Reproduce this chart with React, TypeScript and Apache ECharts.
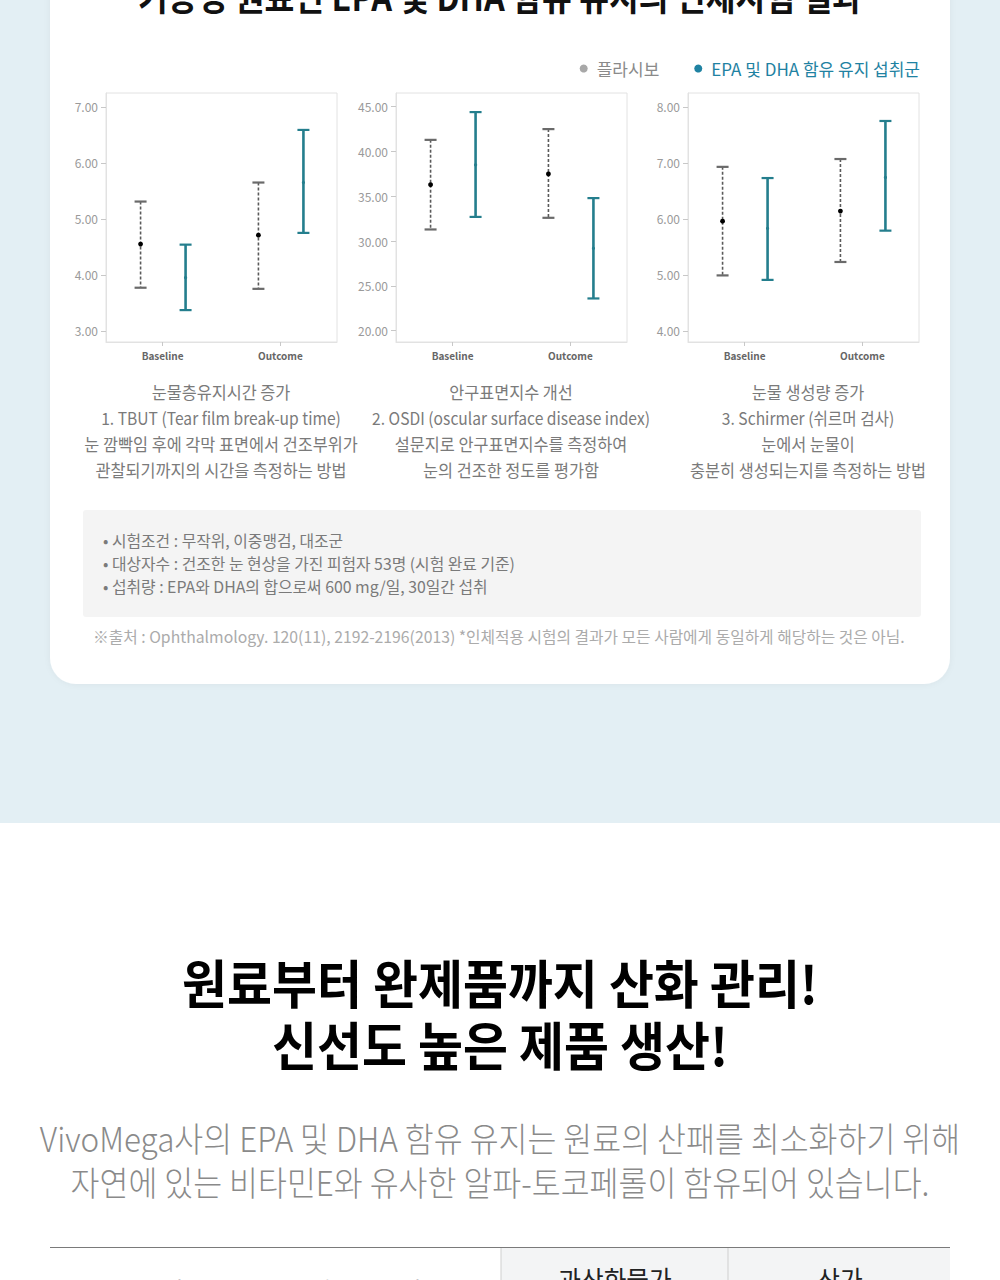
import React, { useEffect, useRef } from "react";
import * as echarts from "echarts";

// ---------- data ----------
const categories = ["Baseline", "Outcome"];
const groupNames = ["플라시보", "EPA 및 DHA 함유 유지 섭취군"];

// TBUT (seconds)
const tbutPlaceboMean = [4.55, 4.71];
const tbutPlaceboLow = [3.77, 3.75];
const tbutPlaceboHigh = [5.31, 5.65];
const tbutEpaMean = [3.95, 5.65];
const tbutEpaLow = [3.37, 4.75];
const tbutEpaHigh = [4.54, 6.59];
const tbutTicks = [3, 4, 5, 6, 7];

// OSDI
const osdiPlaceboMean = [36.3, 37.5];
const osdiPlaceboLow = [31.3, 32.6];
const osdiPlaceboHigh = [41.3, 42.5];
const osdiEpaMean = [38.5, 29.2];
const osdiEpaLow = [32.7, 23.6];
const osdiEpaHigh = [44.4, 34.8];
const osdiTicks = [20, 25, 30, 35, 40, 45];

// Schirmer
const schPlaceboMean = [5.96, 6.14];
const schPlaceboLow = [4.99, 5.23];
const schPlaceboHigh = [6.93, 7.07];
const schEpaMean = [5.83, 6.74];
const schEpaLow = [4.91, 5.79];
const schEpaHigh = [6.73, 7.75];
const schTicks = [4, 5, 6, 7, 8];

const captions = [
  ["눈물층유지시간 증가", "1. TBUT (Tear film break-up time)", "눈 깜빡임 후에 각막 표면에서 건조부위가", "관찰되기까지의 시간을 측정하는 방법"],
  ["안구표면지수 개선", "2. OSDI (oscular surface disease index)", "설문지로 안구표면지수를 측정하여", "눈의 건조한 정도를 평가함"],
  ["눈물 생성량 증가", "3. Schirmer (쉬르머 검사)", "눈에서 눈물이", "충분히 생성되는지를 측정하는 방법"],
];
const bullets = [
  "• 시험조건 : 무작위, 이중맹검, 대조군",
  "• 대상자수 : 건조한 눈 현상을 가진 피험자 53명 (시험 완료 기준)",
  "• 섭취량 : EPA와 DHA의 합으로써 600 mg/일, 30일간 섭취",
];
const footnote = "※출처 : Ophthalmology. 120(11), 2192-2196(2013) *인체적용 시험의 결과가 모든 사람에게 동일하게 해당하는 것은 아님.";
const topTitle = "기능성 원료인 EPA 및 DHA 함유 유지의 인체시험 결과";
const headline = ["원료부터 완제품까지 산화 관리!", "신선도 높은 제품 생산!"];
const paragraph = ["VivoMega사의 EPA 및 DHA 함유 유지는 원료의 산패를 최소화하기 위해", "자연에 있는 비타민E와 유사한 알파-토코페롤이 함유되어 있습니다."];
const tableHeads = ["시중의 EPA 및 DHA 함유 유지의", "과산화물가", "산가"];

// ---------- styles ----------
const FONT = "'Noto Sans CJK KR', 'Noto Sans', sans-serif";
const TEAL = "#247e8d";
const LEGEND_TEAL = "#1f82a2";
const GREY_LINE = "#5a5a5a";

const panels = [
  { left: 106, min: 2.8, max: 7.25, ticks: tbutTicks,
    p: [tbutPlaceboLow, tbutPlaceboMean, tbutPlaceboHigh], e: [tbutEpaLow, tbutEpaMean, tbutEpaHigh] },
  { left: 396, min: 18.74, max: 46.53, ticks: osdiTicks,
    p: [osdiPlaceboLow, osdiPlaceboMean, osdiPlaceboHigh], e: [osdiEpaLow, osdiEpaMean, osdiEpaHigh] },
  { left: 688, min: 3.8, max: 8.25, ticks: schTicks,
    p: [schPlaceboLow, schPlaceboMean, schPlaceboHigh], e: [schEpaLow, schEpaMean, schEpaHigh] },
];
const captionX = [221, 511, 808];

function rows(arr: number[][]) {
  const [lo, mean, hi] = arr;
  return categories.map((_, i) => [i + 1, lo[i], mean[i], hi[i]]);
}

function makeRender(dodge: number, placebo: boolean) {
  return (params: any, api: any) => {
    const x = api.value(0);
    const pLo = api.coord([x, api.value(1)]);
    const pM = api.coord([x, api.value(2)]);
    const pHi = api.coord([x, api.value(3)]);
    const px = pM[0] + dodge;
    const stroke = placebo ? GREY_LINE : TEAL;
    const cap = placebo ? "#6a6a6a" : TEAL;
    const hw = 6;
    return {
      type: "group",
      children: [
        { type: "line", shape: { x1: px, y1: pHi[1], x2: px, y2: pLo[1] },
          style: { stroke, lineWidth: placebo ? 1.6 : 2.6, lineDash: placebo ? [3, 2] : null } },
        { type: "line", shape: { x1: px - hw, y1: pHi[1], x2: px + hw, y2: pHi[1] }, style: { stroke: cap, lineWidth: 2.2 } },
        { type: "line", shape: { x1: px - hw, y1: pLo[1], x2: px + hw, y2: pLo[1] }, style: { stroke: cap, lineWidth: 2.2 } },
        { type: "circle", shape: { cx: px, cy: pM[1], r: placebo ? 2.4 : 1.6 },
          style: { fill: placebo ? "#000" : TEAL } },
      ],
    };
  };
}

function txt(text: string, x: number, y: number, size: number, fill: string, opts: any = {}) {
  return {
    type: "text",
    x, y,
    scaleX: opts.scaleX ?? 1,
    z: 10,
    style: {
      text, fill, fontSize: size, fontFamily: FONT,
      fontWeight: opts.weight ?? "normal",
      textAlign: opts.align ?? "center", align: opts.align ?? "center",
      textVerticalAlign: "middle", verticalAlign: "middle",
    },
  };
}

export default function App() {
  const ref = useRef<HTMLDivElement>(null);
  useEffect(() => {
    document.body.style.margin = "0";
    if (!ref.current) return;
    const chart = echarts.init(ref.current, null, { renderer: "svg" });

    const grids: any[] = [], xAxes: any[] = [], yAxes: any[] = [], series: any[] = [];
    panels.forEach((pn, k) => {
      grids.push({ left: pn.left, width: 231, top: 93, height: 249, show: true,
        borderColor: "#e2e2e2", borderWidth: 1, backgroundColor: "#fff", z: 3 });
      xAxes.push({
        type: "value", gridIndex: k, min: 0.52, max: 2.48, z: 6,
        axisLine: { show: true, lineStyle: { color: "#e2e2e2" } },
        axisTick: { show: true, length: 4, customValues: [1, 2], lineStyle: { color: "#c8c8c8" } },
        axisLabel: { customValues: [1, 2], margin: 8, fontSize: 10, fontWeight: "bold", color: "#666",
          fontFamily: FONT, formatter: (v: number) => categories[Math.round(v) - 1] ?? "" },
        splitLine: { show: false },
      });
      yAxes.push({
        type: "value", gridIndex: k, min: pn.min, max: pn.max, z: 6,
        axisLine: { show: true, lineStyle: { color: "#e2e2e2" } },
        axisTick: { show: true, length: 5, customValues: pn.ticks, lineStyle: { color: "#c8c8c8" } },
        axisLabel: { customValues: pn.ticks, margin: 8, fontSize: 12, color: "#9a9a9a", fontFamily: FONT,
          formatter: (v: number) => v.toFixed(2) },
        splitLine: { show: false },
      });
      series.push({
        type: "custom", name: groupNames[0], xAxisIndex: k, yAxisIndex: k,
        itemStyle: { color: "#a8a8a8" }, renderItem: makeRender(-22, true),
        encode: { x: 0, y: [1, 2, 3] }, data: rows(pn.p), z: 7,
      });
      series.push({
        type: "custom", name: groupNames[1], xAxisIndex: k, yAxisIndex: k,
        itemStyle: { color: LEGEND_TEAL }, renderItem: makeRender(23, false),
        encode: { x: 0, y: [1, 2, 3] }, data: rows(pn.e), z: 7,
      });
    });

    const graphics: any[] = [
      { type: "rect", shape: { x: 0, y: 0, width: 1000, height: 823 }, style: { fill: "#e3eff4" }, z: 0 },
      { type: "rect", shape: { x: 50, y: -60, width: 900, height: 744, r: 26 },
        style: { fill: "#ffffff", shadowBlur: 6, shadowColor: "rgba(0,0,0,0.05)" }, z: 1 },
      txt(topTitle, 500, -5, 36, "#111", { weight: "bold", scaleX: 0.9 }),
      { type: "rect", shape: { x: 83, y: 510, width: 838, height: 107, r: 3 }, style: { fill: "#f4f4f4" }, z: 2 },
    ];
    captions.forEach((lines, k) => {
      lines.forEach((l, j) => graphics.push(txt(l, captionX[k], 392 + j * 26, 17, "#7a7a7a", { scaleX: j === 1 ? 0.92 : 0.96 })));
    });
    bullets.forEach((b, j) => graphics.push(txt(b, 103, 540 + j * 23, 16, "#7a7a7a", { align: "left", scaleX: 0.99 })));
    graphics.push(txt(footnote, 93, 636, 16, "#ababab", { align: "left", scaleX: 0.985 }));
    headline.forEach((h, j) => graphics.push(txt(h, 500, 981 + j * 62, 52, "#000", { weight: "bold", scaleX: 0.94 })));
    paragraph.forEach((p, j) => graphics.push(txt(p, 500, 1137 + j * 44, 34, "#8a8a8a", { weight: 300, scaleX: 0.925 })));
    graphics.push(
      { type: "rect", shape: { x: 501, y: 1248, width: 449, height: 40 }, style: { fill: "#f3f4f5" }, z: 1 },
      { type: "line", shape: { x1: 50, y1: 1247.5, x2: 950, y2: 1247.5 }, style: { stroke: "#7a7a7a", lineWidth: 1 }, z: 2 },
      { type: "line", shape: { x1: 501, y1: 1248, x2: 501, y2: 1290 }, style: { stroke: "#cfcfcf", lineWidth: 1 }, z: 2 },
      { type: "line", shape: { x1: 728, y1: 1248, x2: 728, y2: 1290 }, style: { stroke: "#cfcfcf", lineWidth: 1 }, z: 2 },
      txt(tableHeads[0], 271, 1290, 24, "#222", { scaleX: 0.95 }),
      txt(tableHeads[1], 615, 1279, 26, "#222", { scaleX: 0.95 }),
      txt(tableHeads[2], 840, 1279, 26, "#222", { scaleX: 0.95 }),
    );

    chart.setOption({
      animation: false,
      backgroundColor: "#ffffff",
      legend: {
        right: 75, top: 55, itemGap: 35, icon: "circle", itemWidth: 8, itemHeight: 8,
        textStyle: { fontSize: 17, fontFamily: FONT, padding: [0, 0, 0, 4] },
        data: [
          { name: groupNames[0], itemStyle: { color: "#a8a8a8" }, textStyle: { color: "#8a8a8a" } },
          { name: groupNames[1], itemStyle: { color: LEGEND_TEAL }, textStyle: { color: LEGEND_TEAL } },
        ],
        z: 10,
      },
      grid: grids, xAxis: xAxes, yAxis: yAxes, series,
      graphic: { elements: graphics },
    });
    return () => chart.dispose();
  }, []);
  return <div ref={ref} style={{ position: "absolute", left: 0, top: 0, width: 1000, height: 1280 }} />;
}
